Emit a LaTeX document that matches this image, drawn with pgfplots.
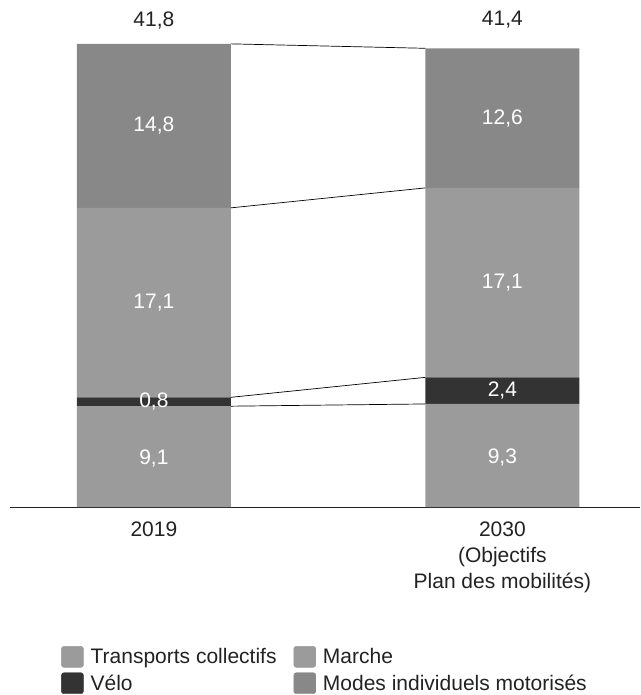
\documentclass[border=0pt]{standalone}
\usepackage{pgfplots}
\pgfplotsset{compat=1.18}
\usepackage{fontspec}
\setmainfont{Liberation Sans}
\definecolor{tc}{HTML}{9B9B9B}
\definecolor{velo}{HTML}{333333}
\definecolor{moto}{HTML}{888888}
\definecolor{txt}{HTML}{222222}
\newcommand\fnt{\fontsize{21}{26}\selectfont}
\pgfplotsset{
  base/.style={at={(0,0)}, anchor=south west, scale only axis,
    width=630pt, height=507pt, xmin=-0.413, xmax=1.395, ymin=0, ymax=45.76, clip=false},
  seg/.style={fill=#1, draw=none},
  lien/.style={draw=black, line width=0.7pt, mark=none, forget plot},
}
\begin{document}
\begin{tikzpicture}[x=1pt,y=1pt]
\useasboundingbox (-10,-188) rectangle (630,507);
% stacked bars
\begin{axis}[base,
  axis x line=bottom, axis y line=none,
  axis line style={-, draw=txt, line width=0.8pt},
  ybar stacked, bar width=0.442,
  xtick={0,1}, xticklabels={2019, {2030\\(Objectifs\\Plan des mobilités)}},
  xtick style={draw=none},
  xticklabel style={align=center, font=\fnt, text=txt, yshift=-9pt},
]
\addplot[seg=tc] coordinates {(0,9.1) (1,9.3)};
\addplot[seg=velo] coordinates {(0,0.8) (1,2.4)};
\addplot[seg=tc] coordinates {(0,17.1) (1,17.1)};
\addplot[seg=moto] coordinates {(0,14.8) (1,12.6)};
\end{axis}
% links, labels, legend
\begin{axis}[base, hide axis,
  legend columns=2, legend cell align=left,
  legend image code/.code={\fill[#1, rounded corners=2.5pt] (0pt,-10.5pt) rectangle (22pt,10.5pt);
    \path (27pt,0pt);},
  legend style={at={(0.081,-0.274)}, anchor=north west, draw=none, fill=none,
    inner sep=0pt, row sep=5pt, font=\fnt, text=txt,
    /tikz/every odd column/.append style={column sep=0pt},
    /tikz/every even column/.append style={column sep=15pt},
    nodes={inner sep=2pt}},
]
\addplot[lien] coordinates {(0.221,9.1) (0.779,9.3)};
\addplot[lien] coordinates {(0.221,9.9) (0.779,11.7)};
\addplot[lien] coordinates {(0.221,27.0) (0.779,28.8)};
\addplot[lien] coordinates {(0.221,41.8) (0.779,41.4)};
\addplot[draw=none, mark=none, forget plot, nodes near coords, point meta=explicit symbolic,
  nodes near coords style={anchor=center, text=white, font=\fnt}]
  table[meta=lab] {
x y lab
0 4.35 9,1
0 9.5 0,8
0 18.45 17,1
0 34.4 14,8
1 4.45 9,3
1 10.5 2,4
1 20.25 17,1
1 35.1 12,6
};
\addplot[draw=none, mark=none, forget plot, nodes near coords, point meta=explicit symbolic,
  nodes near coords style={anchor=center, text=txt, font=\fnt}]
  table[meta=lab] {
x y lab
0 43.95 41,8
1 43.95 41,4
};
\addlegendimage{tc}\addlegendentry{Transports collectifs}
\addlegendimage{tc}\addlegendentry{Marche}
\addlegendimage{velo}\addlegendentry{Vélo}
\addlegendimage{moto}\addlegendentry{Modes individuels motorisés}
\end{axis}
\end{tikzpicture}
\end{document}
